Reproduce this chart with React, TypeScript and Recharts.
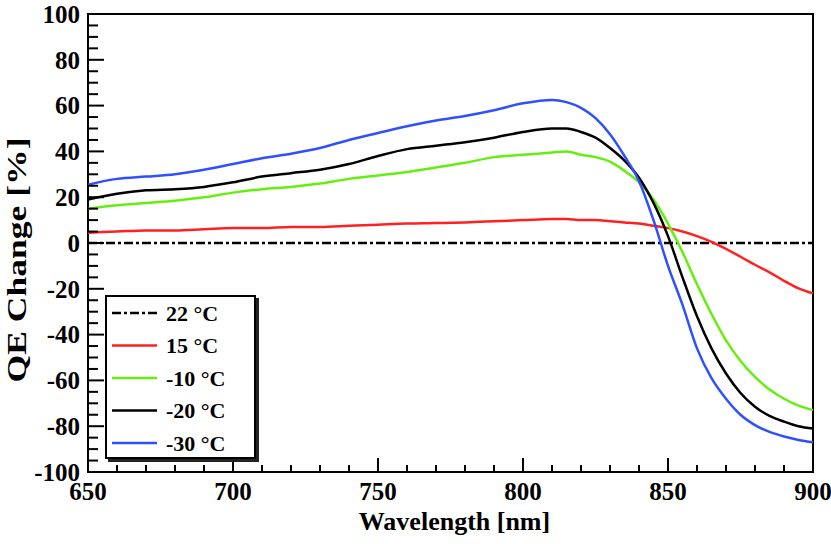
import { LineChart, Line, XAxis, YAxis, ReferenceArea } from 'recharts'

// wavelength samples [nm]
const wavelengths = [
  650, 660, 670, 680, 690, 700, 710, 720, 730, 740, 750, 760, 770, 780, 790, 800, 810,
  815, 820, 825, 830, 835, 840, 845, 850, 855, 860, 865, 870, 875, 880, 885, 890, 895, 900,
]

// QE change [%] per temperature
const qe22 = [
  0, 0, 0, 0, 0, 0, 0, 0, 0, 0, 0, 0, 0, 0, 0, 0, 0,
  0, 0, 0, 0, 0, 0, 0, 0, 0, 0, 0, 0, 0, 0, 0, 0, 0, 0,
]
const qe15 = [
  4.5, 5, 5.5, 5.5, 6, 6.5, 6.5, 7, 7, 7.5, 8, 8.5, 8.7, 9, 9.5, 10, 10.5,
  10.5, 10, 10, 9.5, 9, 8.5, 7.5, 6.5, 5, 3, 0.5, -2.6, -6, -9.5, -12.8, -16.5, -19.8, -22,
]
const qeM10 = [
  15, 16.5, 17.5, 18.5, 20, 22, 23.5, 24.5, 26, 28, 29.5, 31, 33, 35, 37.5, 38.5, 39.5,
  40, 38.5, 37.5, 35.5, 31.5, 26.5, 19, 8.5, -4, -18, -31, -42.5, -51.5, -58.5, -64, -68, -71, -73,
]
const qeM20 = [
  19, 21.5, 23, 23.5, 24.5, 26.5, 29, 30.5, 32, 34.5, 38, 41, 42.5, 44, 46, 48.5, 50,
  50, 48.5, 46, 41.5, 36, 28.5, 17.5, 3, -15, -32, -46, -57, -65.5, -71.5, -75.5, -78, -80, -81,
]
const qeM30 = [
  25.5, 28, 29, 30, 32, 34.5, 37, 39, 41.5, 45, 48, 51, 53.5, 55.5, 58, 61, 62.5,
  61.5, 59, 54.5, 47.5, 38, 27, 10, -10, -27, -46, -59, -68, -75, -79.5, -82.5, -84.5, -86, -87,
]

const xTicks = [
  650, 660, 670, 680, 690, 700, 710, 720, 730, 740, 750, 760, 770,
  780, 790, 800, 810, 820, 830, 840, 850, 860, 870, 880, 890, 900,
]
const yTicks = [
  -100, -95, -90, -85, -80, -75, -70, -65, -60, -55, -50, -45, -40, -35, -30, -25, -20,
  -15, -10, -5, 0, 5, 10, 15, 20, 25, 30, 35, 40, 45, 50, 55, 60, 65, 70, 75, 80, 85,
  90, 95, 100,
]

const series = [
  { key: 't22', label: '22 °C', values: qe22, color: '#000000', dash: '9 3 3 3' },
  { key: 't15', label: '15 °C', values: qe15, color: '#ff2020', dash: undefined },
  { key: 'tm10', label: '-10 °C', values: qeM10, color: '#66ee11', dash: undefined },
  { key: 'tm20', label: '-20 °C', values: qeM20, color: '#000000', dash: undefined },
  { key: 'tm30', label: '-30 °C', values: qeM30, color: '#3050ff', dash: undefined },
]

const data = wavelengths.map((w, i) => {
  const row: Record<string, number> = { w }
  series.forEach(s => { row[s.key] = s.values[i] })
  return row
})

const FONT = '"Liberation Serif", "Times New Roman", serif'

function BottomTick({ x, y, payload }: any) {
  const major = payload.value % 50 === 0
  const base = y - 13
  return (
    <g>
      <line x1={x} x2={x} y1={base} y2={base - (major ? 14 : 7)} stroke="#000" strokeWidth={2} />
      {major && (
        <text x={x} y={base + 28} textAnchor="middle" fontFamily={FONT} fontWeight="bold" fontSize={25} fill="#000">
          {payload.value}
        </text>
      )}
    </g>
  )
}

function TopTick({ x, y, payload }: any) {
  const major = payload.value % 50 === 0
  return <line x1={x} x2={x} y1={y} y2={y + (major ? 15 : 7)} stroke="#000" strokeWidth={2} />
}

function LeftTick({ x, y, payload }: any) {
  const major = payload.value % 20 === 0
  const base = x + 8
  return (
    <g>
      <line x1={base} x2={base + (major ? 16 : 10)} y1={y} y2={y} stroke="#000" strokeWidth={2} />
      {major && (
        <text x={x} y={y} dy="0.35em" textAnchor="end" fontFamily={FONT} fontWeight="bold" fontSize={25} fill="#000">
          {payload.value}
        </text>
      )}
    </g>
  )
}

function YLabel({ viewBox }: any) {
  const cx = viewBox.x + 16
  const cy = viewBox.y + viewBox.height / 2 + 17
  return (
    <text transform={`translate(${cx},${cy}) rotate(-90) scale(1.27,1)`} textAnchor="middle" dy="0.35em"
      fontFamily={FONT} fontWeight="bold" fontSize={28} fill="#000">
      QE Change [%]
    </text>
  )
}

function XLabel({ viewBox }: any) {
  return (
    <text x={viewBox.x + viewBox.width / 2 + 4} y={viewBox.y + 58} textAnchor="middle"
      fontFamily={FONT} fontWeight="bold" fontSize={26} fill="#000">
      Wavelength [nm]
    </text>
  )
}

function LegendBox() {
  return (
    <div style={{
      position: 'absolute', left: 105, top: 295, width: 147, height: 160,
      border: '2px solid #000', background: '#fff', boxShadow: '3px 3px 0 #222',
    }}>
      <svg width={147} height={160}>
        {series.map((s, i) => {
          const cy = 16 + i * 32.5
          return (
            <g key={s.key}>
              <line x1={5} x2={50} y1={cy} y2={cy} stroke={s.color} strokeWidth={2.5} strokeDasharray={s.dash} />
              <text x={59} y={cy} dy="0.35em" fontFamily={FONT} fontWeight="bold" fontSize={22} fill="#000">
                {s.label}
              </text>
            </g>
          )
        })}
      </svg>
    </div>
  )
}

export default function App() {
  return (
    <div style={{ position: 'absolute', left: 0, top: 0, width: 831, height: 544, background: '#fff' }}>
      <LineChart width={831} height={544} data={data} margin={{ top: 14, right: 18, left: 0, bottom: 0 }}>
        <XAxis dataKey="w" type="number" domain={[650, 900]} ticks={xTicks} interval={0}
          axisLine={false} tickLine={false} tickSize={0} tickMargin={13} height={72}
          tick={<BottomTick />} label={<XLabel />} />
        <XAxis xAxisId="top" orientation="top" dataKey="w" type="number" domain={[650, 900]} ticks={xTicks}
          interval={0} axisLine={false} tickLine={false} tickSize={0} tickMargin={0} height={0}
          tick={<TopTick />} />
        <YAxis type="number" domain={[-100, 100]} ticks={yTicks} interval={0}
          axisLine={false} tickLine={false} tickSize={0} tickMargin={8} width={88}
          tick={<LeftTick />} label={<YLabel />} />
        <ReferenceArea x1={650} x2={900} y1={-100} y2={100} fill="none" stroke="#000" strokeWidth={2} />
        {series.map(s => (
          <Line key={s.key} dataKey={s.key} type="monotone" stroke={s.color} strokeWidth={2.5}
            strokeDasharray={s.dash} dot={false} activeDot={false} isAnimationActive={false} />
        ))}
      </LineChart>
      <LegendBox />
    </div>
  )
}
